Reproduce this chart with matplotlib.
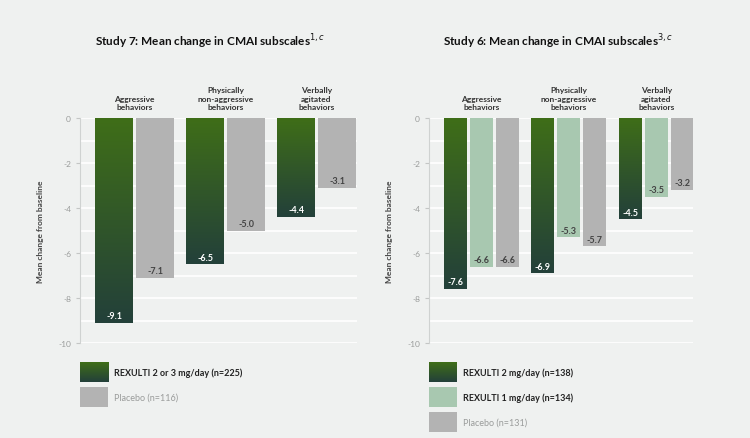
import numpy as np
import matplotlib
matplotlib.use("Agg")
import matplotlib.pyplot as plt
from matplotlib.colors import LinearSegmentedColormap
from matplotlib.patches import Rectangle

plt.rcParams['font.family'] = ['Lato', 'DejaVu Sans']

categories = ["Aggressive\nbehaviors", "Physically\nnon-aggressive\nbehaviors", "Verbally\nagitated\nbehaviors"]
s7_rexulti = [-9.1, -6.5, -4.4]
s7_placebo = [-7.1, -5.0, -3.1]
s6_rexulti2 = [-7.6, -6.9, -4.5]
s6_rexulti1 = [-6.6, -5.3, -3.5]
s6_placebo = [-6.6, -5.7, -3.2]

BG = '#eff1f0'
GRAY = '#b3b3b3'
LGREEN = '#a8c8b0'
green_cmap = LinearSegmentedColormap.from_list('g', ['#3f6e18', '#23403a'])

fig = plt.figure(figsize=(7.5, 4.39), dpi=100, facecolor=BG)

def grad_bar(ax, x, w, h):
    # vertical gradient clipped to bar
    im = ax.imshow(np.linspace(0, 1, 256).reshape(-1, 1), cmap=green_cmap, aspect='auto',
                   extent=[x - w/2, x + w/2, h, 0], zorder=3, origin='upper')
    rect = Rectangle((x - w/2, h), w, -h, transform=ax.transData, facecolor='none', edgecolor='none')
    ax.add_patch(rect)
    im.set_clip_path(rect)

def setup(ax, xlim):
    ax.set_facecolor(BG)
    ax.set_xlim(*xlim)
    ax.set_ylim(-10, 0)
    for y in np.arange(-9, 0.5, 1):
        ax.axhline(y, color='white', lw=1.2, zorder=1)
    ax.axhline(-10, color='white', lw=1.2, zorder=1)
    for s in ['top', 'right', 'bottom']:
        ax.spines[s].set_visible(False)
    ax.spines['left'].set_color('#cfd2d1')
    ax.set_xticks([])
    ax.set_yticks([0, -2, -4, -6, -8, -10])
    ax.set_yticklabels(['0', '-2', '-4', '-6', '-8', '-10'])
    ax.tick_params(axis='y', colors='#c4c6c5', labelcolor='#9a9c9b', labelsize=6, length=3, width=0.8)
    ax.set_ylabel('Mean change from baseline', fontsize=6, fontweight='bold', color='#444444', labelpad=10)
    ax.set_clip_on(False)
    for i, c in enumerate(categories):
        ax.text(i, 0.35, c, ha='center', va='bottom', fontsize=6, fontweight='bold', color='#333333',
                linespacing=1.25)

def label(ax, x, v, dark):
    ax.text(x, v + 0.12, f"{v:.1f}", ha='center', va='bottom', fontsize=6.5, fontweight='bold',
            color='white' if dark else '#444444', zorder=5)

# Study 7
ax1 = fig.add_axes([80/750, 1 - 344/439, 277/750, 225/439])
setup(ax1, (-0.6, 2.445))
w1, off1 = 0.41, 0.225
for i in range(3):
    grad_bar(ax1, i - off1, w1, s7_rexulti[i])
    ax1.bar(i + off1, s7_placebo[i], w1, color=GRAY, zorder=3)
    label(ax1, i - off1, s7_rexulti[i], True)
    label(ax1, i + off1, s7_placebo[i], False)

# Study 6
ax2 = fig.add_axes([429/750, 1 - 344/439, 264/750, 225/439])
setup(ax2, (-0.6, 2.42))
w2, off2 = 0.263, 0.298
for i in range(3):
    grad_bar(ax2, i - off2, w2, s6_rexulti2[i])
    ax2.bar(i, s6_rexulti1[i], w2, color=LGREEN, zorder=3)
    ax2.bar(i + off2, s6_placebo[i], w2, color=GRAY, zorder=3)
    label(ax2, i - off2, s6_rexulti2[i], True)
    label(ax2, i, s6_rexulti1[i], False)
    label(ax2, i + off2, s6_placebo[i], False)
for a in (ax1, ax2):
    a.set_xlim(a.get_xlim())

fig.text(95/750, 1 - 42/439, "Study 7: Mean change in CMAI subscales$^{1,c}$", fontsize=8.5,
         fontweight='bold', color='#111111', va='center')
fig.text(443/750, 1 - 42/439, "Study 6: Mean change in CMAI subscales$^{3,c}$", fontsize=8.5,
         fontweight='bold', color='#111111', va='center')

# legends
def legend_item(x, y, color, text, bold, grad=False):
    lax = fig.add_axes([x/750, 1 - (y + 10)/439, 28/750, 20/439])
    lax.axis('off')
    if grad:
        lax.imshow(np.linspace(0, 1, 64).reshape(-1, 1), cmap=green_cmap, aspect='auto', extent=[0, 1, 0, 1])
    else:
        lax.add_patch(Rectangle((0, 0), 1, 1, color=color))
    lax.set_xlim(0, 1); lax.set_ylim(0, 1)
    fig.text((x + 34)/750, 1 - y/439, text, fontsize=6.5, va='center',
             fontweight='bold' if bold else 'normal', color='#222222' if bold else '#9a9c9b')

legend_item(80, 373, None, "REXULTI 2 or 3 mg/day (n=225)", True, grad=True)
legend_item(80, 398, GRAY, "Placebo (n=116)", False)
legend_item(429, 373, None, "REXULTI 2 mg/day (n=138)", True, grad=True)
legend_item(429, 398, LGREEN, "REXULTI 1 mg/day (n=134)", True)
legend_item(429, 423, GRAY, "Placebo (n=131)", False)

fig.savefig("out.png", dpi=100, facecolor=BG)
